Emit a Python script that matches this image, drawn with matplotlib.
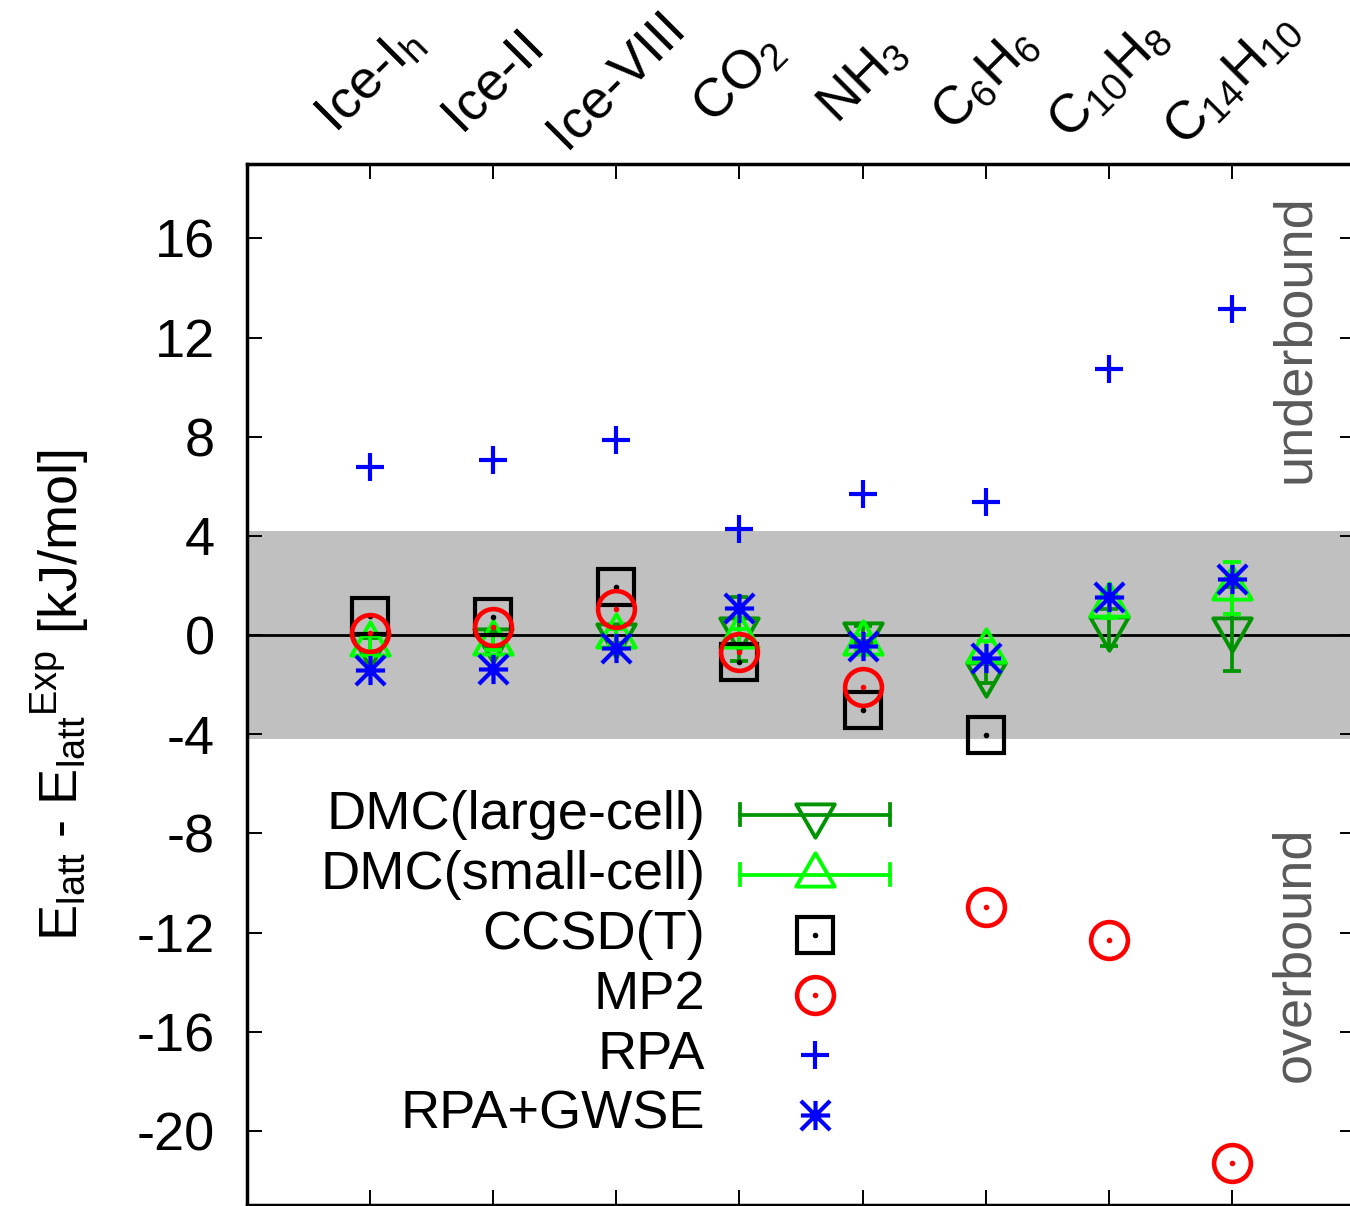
import numpy as np
import matplotlib
matplotlib.use('Agg')
import matplotlib.pyplot as plt
from matplotlib.path import Path

plt.rcParams['font.family'] = ['Liberation Sans', 'DejaVu Sans']
plt.rcParams['mathtext.fontset'] = 'custom'
plt.rcParams['mathtext.rm'] = 'Liberation Sans'
plt.rcParams['mathtext.default'] = 'regular'
plt.rcParams['axes.unicode_minus'] = False

# systems on the top axis
systems = ['Ice-I$_h$', 'Ice-II', 'Ice-VIII', 'CO$_2$', 'NH$_3$',
           'C$_6$H$_6$', 'C$_{10}$H$_8$', 'C$_{14}$H$_{10}$']
xpos = np.arange(1, len(systems) + 1)

# E_latt - E_latt^Exp in kJ/mol
dmc_large = [-0.4, -0.2, 0.0, 0.25, 0.05, -1.55, 0.3, 0.25]
dmc_large_err = [0.3, 0.3, 0.3, 1.3, 0.3, 0.4, 0.75, 1.7]
dmc_small = [-0.35, -0.3, -0.05, -0.05, -0.3, -0.65, 1.2, 1.9]
dmc_small_err = [0.3, 0.3, 0.3, 0.3, 0.3, 0.4, 0.5, 1.05]
ccsdt = [0.79, 0.73, 1.94, -1.09, -3.02, -4.03, np.nan, np.nan]
mp2 = [0.08, 0.32, 1.05, -0.69, -2.1, -10.97, -12.3, -21.3]
rpa = [6.77, 7.06, 7.86, 4.27, 5.69, 5.36, 10.73, 13.15]
rpa_gwse = [-1.41, -1.37, -0.52, 1.09, -0.44, -0.93, 1.55, 2.26]

chem_acc = 4.184  # 1 kcal/mol

dark_green = '#009400'
light_green = '#00ff00'

tri_down = Path([(-1, 0.577), (1, 0.577), (0, -1.155), (-1, 0.577)],
                [Path.MOVETO, Path.LINETO, Path.LINETO, Path.CLOSEPOLY])
tri_up = Path([(-1, -0.577), (1, -0.577), (0, 1.155), (-1, -0.577)],
              [Path.MOVETO, Path.LINETO, Path.LINETO, Path.CLOSEPOLY])
aster = Path([(-1, 0), (1, 0), (0, -1), (0, 1), (-1, -1), (1, 1), (-1, 1), (1, -1)],
             [Path.MOVETO, Path.LINETO] * 4)

fig = plt.figure(figsize=(13.5, 12.06), dpi=100)
ax = fig.add_axes([247 / 1350, 1 - 1205.4 / 1206, 1108 / 1350, 1041.4 / 1206])

ax.set_xlim(0, 9)
ax.set_ylim(-23, 19)

ax.axhspan(-chem_acc, chem_acc, color='#c0c0c0', lw=0, zorder=0)
ax.axhline(0, color='black', lw=2.0, zorder=1)

tri_ms = 32
ew = 2.7
ax.errorbar(xpos, dmc_large, yerr=dmc_large_err, fmt='none', ecolor=dark_green,
            elinewidth=ew, capsize=6.5, capthick=ew, zorder=2)
ax.plot(xpos, dmc_large, ls='none', marker=tri_down, ms=tri_ms, mfc='none',
        mec=dark_green, mew=2.8, zorder=2)
ax.errorbar(xpos, dmc_small, yerr=dmc_small_err, fmt='none', ecolor=light_green,
            elinewidth=ew, capsize=6.5, capthick=ew, zorder=3)
ax.plot(xpos, dmc_small, ls='none', marker=tri_up, ms=tri_ms, mfc='none',
        mec=light_green, mew=2.8, zorder=3)

ax.plot(xpos, ccsdt, ls='none', marker='s', ms=26, mfc='none', mec='black',
        mew=3.0, zorder=4)
ax.plot(xpos, ccsdt, ls='none', marker='o', ms=3, color='black', zorder=4)
ax.plot(xpos, mp2, ls='none', marker='o', ms=26.5, mfc='none', mec='red',
        mew=3.3, zorder=5)
ax.plot(xpos, mp2, ls='none', marker='o', ms=3, color='red', zorder=5)
ax.plot(xpos, rpa, ls='none', marker='+', ms=20, mec='blue', mew=3.0, zorder=6)
ax.plot(xpos, rpa_gwse, ls='none', marker=aster, ms=21, mfc='none', mec='blue',
        mew=3.0, zorder=7)

# axes and ticks
for sp in ax.spines.values():
    sp.set_linewidth(2.5)
ax.set_yticks(np.arange(-20, 17, 4))
ax.set_xticks(xpos)
ax.tick_params(axis='y', direction='in', length=11, width=1.4, right=True,
               labelsize=39, pad=23)
ax.tick_params(axis='x', direction='in', length=11, width=1.4, top=True,
               labelbottom=False)

for xi, name in zip(xpos, systems):
    ax.text(xi, 1.081, name, transform=ax.get_xaxis_transform(), rotation=45,
            ha='center', va='center', fontsize=39)

fig.text(0.045, 1 - 695 / 1206, 'E$_{latt}$ - E$_{latt}{}^{Exp}$ [kJ/mol]',
         rotation=90, ha='center', va='center', fontsize=39)

ax.text(0.946, 0.832, 'underbound', transform=ax.transAxes, rotation=90,
        ha='center', va='center', fontsize=39, color='#5a5a5a')
ax.text(0.946, 0.2407, 'overbound', transform=ax.transAxes, rotation=90,
        ha='center', va='center', fontsize=39, color='#5a5a5a')

# legend drawn by hand, gnuplot style
labels = ['DMC(large-cell)', 'DMC(small-cell)', 'CCSD(T)', 'MP2', 'RPA', 'RPA+GWSE']
row_y = 0.3752 - 0.05767 * np.arange(len(labels))
tx, mx, x0, x1 = 0.4134, 0.5126, 0.445, 0.580
cap = 0.0100
tr = ax.transAxes
for lab, yy in zip(labels, row_y):
    ax.text(tx, yy, lab, transform=tr, ha='right', va='center', fontsize=39)
for yy, col, mk in [(row_y[0], dark_green, tri_down), (row_y[1], light_green, tri_up)]:
    ax.plot([x0, x1], [yy, yy], color=col, lw=ew, transform=tr, zorder=8)
    for xc in (x0, x1):
        ax.plot([xc, xc], [yy - cap, yy + cap], color=col, lw=ew, transform=tr, zorder=8)
    ax.plot([mx], [yy], marker=mk, ms=tri_ms, mfc='none', mec=col, mew=2.8,
            transform=tr, zorder=8)
ax.plot([mx], [row_y[2]], marker='s', ms=26, mfc='none', mec='black', mew=3.0, transform=tr)
ax.plot([mx], [row_y[2]], marker='o', ms=3, color='black', transform=tr)
ax.plot([mx], [row_y[3]], marker='o', ms=26.5, mfc='none', mec='red', mew=3.3, transform=tr)
ax.plot([mx], [row_y[3]], marker='o', ms=3, color='red', transform=tr)
ax.plot([mx], [row_y[4]], marker='+', ms=20, mec='blue', mew=3.0, transform=tr)
ax.plot([mx], [row_y[5]], marker=aster, ms=21, mfc='none', mec='blue', mew=3.0, transform=tr)

fig.savefig('out.png', dpi=100)
